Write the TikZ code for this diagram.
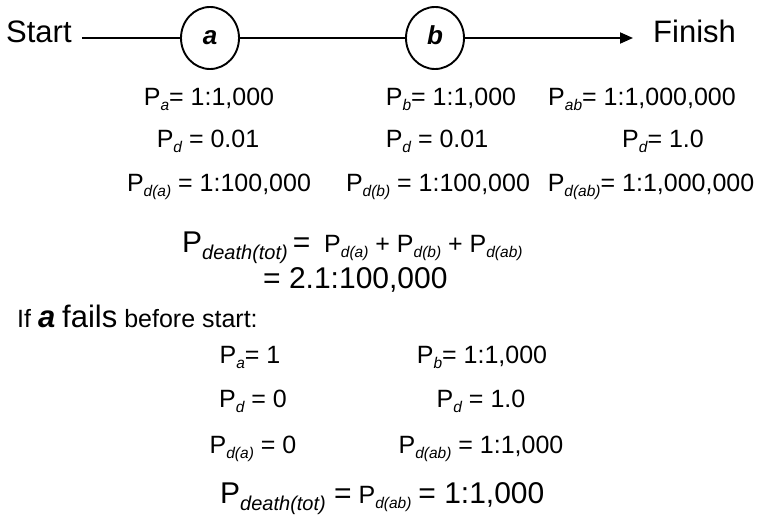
\documentclass[tikz,border=0pt]{standalone}
\usepackage{fontspec}
\setmainfont{Liberation Sans}
\usetikzlibrary{arrows.meta,shapes.geometric}
\newcommand{\fbody}{\fontsize{25}{29}\selectfont}
\newcommand{\fbig}{\fontsize{30}{35}\selectfont}
\newcommand{\fmid}{\fontsize{30}{34}\selectfont}
\newcommand{\sbA}[1]{\raisebox{-5pt}{\fontsize{15.5}{16}\selectfont\itshape #1}}
\newcommand{\sbB}[1]{\raisebox{-7pt}{\fontsize{20}{21}\selectfont\itshape #1}}
\tikzset{
  lbl/.style={anchor=base west, inner sep=0pt, font=\fbody},
  clbl/.style={anchor=base, inner sep=0pt, font=\fbody},
  endlbl/.style={anchor=base west, inner sep=0pt, font=\fontsize{31}{36}\selectfont},
  stage/.style={ellipse, draw, line width=1.9pt, minimum width=58pt, minimum height=62pt,
                inner sep=0pt, text height=14pt, text depth=0pt,
                font=\fontsize{26}{30}\selectfont\bfseries\itshape},
  wire/.style={line width=1.9pt},
  arrowwire/.style={line width=1.9pt, -{Triangle[length=13pt,width=11pt]}}
}
\begin{document}
\begin{tikzpicture}[x=1pt,y=-1pt]
\useasboundingbox[fill=white] (0,0) rectangle (770,519);
% top chain
\node[endlbl] (start) at (6,43) {Start};
\node[stage] (a) at (210,38) {a};
\node[stage] (b) at (435,38) {b};
\node[endlbl] (finish) at (653,43) {Finish};
\draw[wire, shorten <=10pt] (start.east |- a.west) -- (a.west);
\draw[wire] (a) -- (b);
\draw[arrowwire, shorten >=20pt] (b) -- (finish.west |- b);
% values
\node[clbl] (pa) at (209,105) {P\sbA{a}= 1:1,000};
\node[clbl] (pb) at (451,105) {P\sbA{b}= 1:1,000};
\node[clbl] (pab) at (642,105) {P\sbA{ab}= 1:1,000,000};
\node[clbl] (pd1) at (208,147) {P\sbA{d} = 0.01};
\node[clbl] (pd2) at (437,147) {P\sbA{d} = 0.01};
\node[clbl] (pd3) at (663,147) {P\sbA{d}= 1.0};
\node[clbl] (pda) at (219,191) {P\sbA{d(a)} = 1:100,000};
\node[clbl] (pdb) at (438,191) {P\sbA{d(b)} = 1:100,000};
\node[clbl] (pdab) at (651,191) {P\sbA{d(ab)}= 1:1,000,000};
% total
\node[lbl] (tot) at (182,252) {{\fbig P\sbB{death(tot)}\,=}\ \ P\sbA{d(a)} + P\sbA{d(b)} + P\sbA{d(ab)}};
\node[lbl, font=\fmid] (totv) at (263,288) {= 2.1:100,000};
% failure case
\node[lbl, font=\fontsize{25}{29}\selectfont] (iff) at (17,327) {If {\fontsize{31}{35}\selectfont\bfseries\itshape a} {\fontsize{31}{35}\selectfont fails} before start:};
\node[clbl] (qa) at (250,363) {P\sbA{a}= 1};
\node[clbl] (qb) at (482,363) {P\sbA{b}= 1:1,000};
\node[clbl] (qd1) at (253,407) {P\sbA{d} = 0};
\node[clbl] (qd2) at (481,407) {P\sbA{d} = 1.0};
\node[clbl] (qda) at (253,453) {P\sbA{d(a)} = 0};
\node[clbl] (qdab) at (481,453) {P\sbA{d(ab)} = 1:1,000};
\node[lbl] (qtot) at (220,503) {{\fbig P\sbB{death(tot)} =} P\sbA{d(ab)} {\fmid = 1:1,000}};
\end{tikzpicture}
\end{document}
